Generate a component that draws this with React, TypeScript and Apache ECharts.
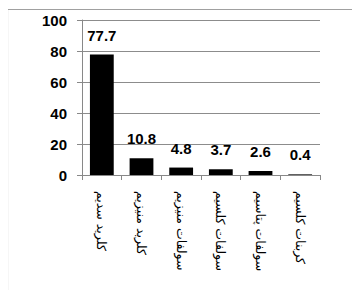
import React, { useEffect, useRef } from "react";
import * as echarts from "echarts";

const categories = [
  "کلرید سدیم",
  "کلرید منیزیم",
  "سولفات منیزیم",
  "سولفات کلسیم",
  "سولفات پتاسیم",
  "کربنات کلسیم",
];
const values = [77.7, 10.8, 4.8, 3.7, 2.6, 0.4];
const yTicks = [0, 20, 40, 60, 80, 100];

export default function App() {
  const ref = useRef<HTMLDivElement>(null);
  useEffect(() => {
    if (!ref.current) return;
    const chart = echarts.init(ref.current, null, { renderer: "svg" });
    chart.setOption({
      animation: false,
      backgroundColor: "#fff",
      graphic: [
        {
          type: "rect",
          left: 5,
          top: 7,
          z: 100,
          shape: { width: 351, height: 295 },
          style: { fill: "none", stroke: "#a0a0a0", lineWidth: 1.2 },
          silent: true,
        },
      ],
      grid: { left: 82, right: 40, top: 20, bottom: 123 },
      xAxis: {
        type: "category",
        data: categories,
        axisLine: { lineStyle: { color: "#888", width: 1 } },
        axisTick: { show: true, length: 5, lineStyle: { color: "#888" } },
        axisLabel: {
          rotate: -90,
          margin: 16,
          fontSize: 12.5,
          color: "#000",
          fontFamily: "DejaVu Sans",
          interval: 0,
        },
      },
      yAxis: {
        type: "value",
        min: yTicks[0],
        max: yTicks[yTicks.length - 1],
        interval: 20,
        axisLine: { show: true, lineStyle: { color: "#888", width: 1 } },
        axisTick: { show: true, length: 5, lineStyle: { color: "#888" } },
        splitLine: { lineStyle: { color: "#8c8c8c", width: 1 } },
        axisLabel: {
          margin: 15,
          fontSize: 15,
          fontWeight: "bold",
          color: "#000",
          fontFamily: "Liberation Sans",
        },
      },
      series: [
        {
          type: "bar",
          data: values,
          barWidth: "60%",
          itemStyle: { color: "#000" },
          label: {
            show: true,
            position: "top",
            distance: 12,
            fontSize: 15,
            fontWeight: "bold",
            color: "#000",
            fontFamily: "Liberation Sans",
          },
        },
      ],
    });
    return () => chart.dispose();
  }, []);
  return <div ref={ref} style={{ width: 360, height: 298, margin: -8 }} />;
}
